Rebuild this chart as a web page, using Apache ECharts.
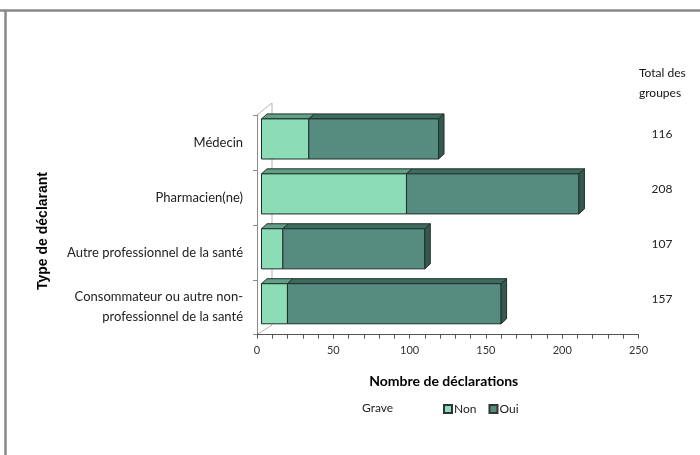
<!DOCTYPE html>
<html>
<head>
<meta charset="utf-8">
<script src="https://cdn.jsdelivr.net/npm/echarts@6/dist/echarts.min.js"></script>
<style>
  html, body { margin: 0; padding: 0; background: #fff; }
  #main { width: 700px; height: 455px; }
</style>
</head>
<body>
<div id="main"></div>
<script>
// données
var categories = ['Médecin', 'Pharmacien(ne)', 'Autre professionnel de la santé', 'Consommateur ou autre non-\nprofessionnel de la santé'];
var nonValues = [31, 95, 14, 17];
var ouiValues = [85, 113, 93, 140];
var totals = ['116', '208', '107', '157'];
var xTicks = [0, 50, 100, 150, 200, 250];

var edge = '#1f302b';
var font = 'Lato';

// barre 3D : face avant, dessus, côté droit
function makeRender(front, top, side, drawSide) {
  return function (params, api) {
    var a = api.coord([api.value(0), api.value(2)]);
    var b = api.coord([api.value(1), api.value(2)]);
    var h = api.size([0, 1])[1] * 0.73;
    var dx = 5.5, dy = 5;
    var x0 = a[0] + 4.5, x1 = b[0] + 4.5;
    var y0 = a[1] - 3.5 - h / 2, y1 = y0 + h;
    var children = [
      { type: 'polygon', shape: { points: [[x0, y0], [x0 + dx, y0 - dy], [x1 + dx, y0 - dy], [x1, y0]] },
        style: { fill: top, stroke: edge, lineWidth: 1 } },
      { type: 'rect', shape: { x: x0, y: y0, width: x1 - x0, height: h },
        style: { fill: front, stroke: edge, lineWidth: 1 } }
    ];
    if (drawSide) {
      children.push({ type: 'polygon', shape: { points: [[x1, y0], [x1 + dx, y0 - dy], [x1 + dx, y1 - dy], [x1, y1]] },
        style: { fill: side, stroke: edge, lineWidth: 1 } });
    }
    return { type: 'group', children: children };
  };
}

var nonData = [], ouiData = [];
for (var i = 0; i < categories.length; i++) {
  nonData.push([0, nonValues[i], i]);
  ouiData.push([nonValues[i], nonValues[i] + ouiValues[i], i]);
}

var chart = echarts.init(document.getElementById('main'));
var option = {
  animation: false,
  grid: { left: 257, right: 61.5, top: 115, bottom: 120.3, containLabel: false },
  title: [
    { text: 'Total des\ngroupes', left: 634, top: 58,
      textStyle: { fontFamily: font, fontSize: 12, fontWeight: 'normal', color: '#111', lineHeight: 20 } },
    { text: 'Grave', left: 357, top: 397,
      textStyle: { fontFamily: font, fontSize: 12, fontWeight: 'normal', color: '#222' } }
  ],
  legend: {
    data: ['Non', 'Oui'],
    left: 438, top: 398,
    icon: 'rect', itemWidth: 8, itemHeight: 8, itemGap: 12,
    textStyle: { fontFamily: font, fontSize: 12, color: '#222', padding: [0, 0, 0, -3] }
  },
  xAxis: {
    type: 'value', min: 0, max: 250, interval: 50,
    name: 'Nombre de déclarations', nameLocation: 'middle', nameGap: 40,
    nameTextStyle: { fontFamily: font, fontSize: 14, fontWeight: 'bold', color: '#000', padding: [0, 8, 0, 0] },
    axisLine: { show: true, lineStyle: { color: '#555', width: 1 } },
    axisTick: { show: true, length: 4, lineStyle: { color: '#555' } },
    minorTick: { show: true, splitNumber: 5, length: 4, lineStyle: { color: '#555' } },
    splitLine: { show: false },
    axisLabel: { fontFamily: font, fontSize: 11, color: '#333', margin: 10,
      formatter: function (v) { return xTicks.indexOf(v) >= 0 ? String(v) : ''; } }
  },
  yAxis: [
    {
      type: 'category', data: categories, inverse: true,
      axisLine: { show: true, lineStyle: { color: '#8a8a8a' } },
      axisTick: { show: true, length: 4, lineStyle: { color: '#8a8a8a' } },
      axisLabel: { fontFamily: font, fontSize: 13, color: '#222', margin: 14, lineHeight: 20, align: 'right' }
    },
    {
      type: 'category', data: totals, inverse: true, position: 'right',
      axisLine: { show: false }, axisTick: { show: false },
      axisLabel: { fontFamily: font, fontSize: 12, color: '#222', margin: 13, align: 'left',
        verticalAlign: 'bottom', lineHeight: 16 }
    }
  ],
  graphic: [
    // cadre extérieur
    { type: 'line', shape: { x1: 0, y1: 10.5, x2: 700, y2: 10.5 }, style: { stroke: '#888', lineWidth: 2.5 } },
    { type: 'line', shape: { x1: 5.5, y1: 10, x2: 5.5, y2: 455 }, style: { stroke: '#888', lineWidth: 2.5 } },
    // parois 3D
    { type: 'line', shape: { x1: 257, y1: 115, x2: 272, y2: 103 }, style: { stroke: '#b5b5b5', lineWidth: 1 }, z: -1 },
    { type: 'line', shape: { x1: 272, y1: 103, x2: 272, y2: 325 }, style: { stroke: '#b5b5b5', lineWidth: 1 }, z: -1 },
    { type: 'line', shape: { x1: 257, y1: 334.5, x2: 272, y2: 325 }, style: { stroke: '#b5b5b5', lineWidth: 1 }, z: -1 },
    // titre de l'axe vertical
    { type: 'text', x: 43, y: 231, rotation: Math.PI / 2,
      style: { text: 'Type de déclarant', font: 'bold 14px "Liberation Sans", Arial', fill: '#000',
        align: 'center', verticalAlign: 'middle' } }
  ],
  series: [
    {
      name: 'Non', type: 'custom', data: nonData,
      encode: { x: [0, 1], y: 2 },
      itemStyle: { color: '#8ddcb8', borderColor: '#333', borderWidth: 0.5 },
      renderItem: makeRender('#8ddcb8', '#62a086', '#3a5f54', false)
    },
    {
      name: 'Oui', type: 'custom', data: ouiData,
      encode: { x: [0, 1], y: 2 },
      itemStyle: { color: '#568c7f', borderColor: '#333', borderWidth: 0.5 },
      renderItem: makeRender('#568c7f', '#3f6a5e', '#35594f', true)
    }
  ]
};
chart.setOption(option);
</script>
</body>
</html>
